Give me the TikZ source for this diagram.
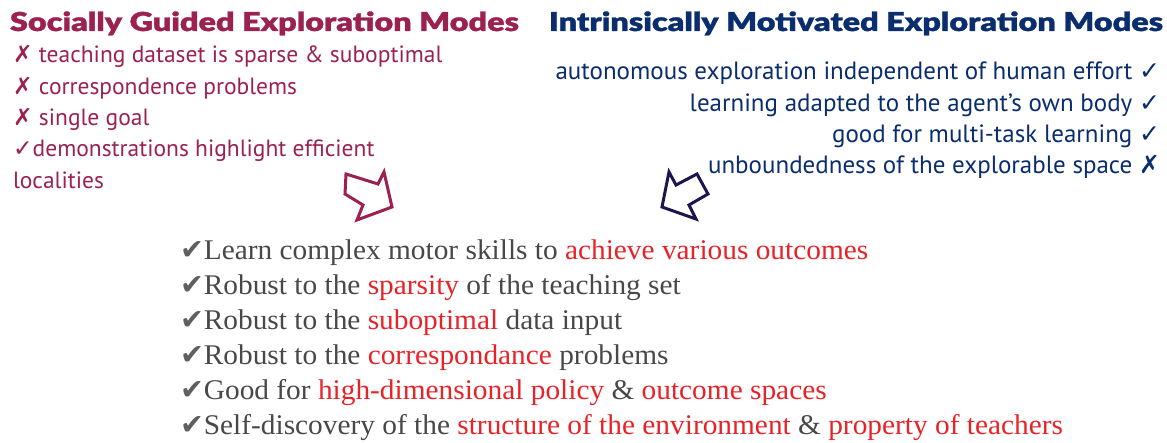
\documentclass[tikz,border=0pt]{standalone}
\usepackage{fontspec}
\usepackage{xcolor}
\usetikzlibrary{positioning}
\setmainfont[FakeStretch=1.03]{Liberation Serif}
\newfontfamily\gillfont{PT Sans}
\newfontfamily\headfont[FakeStretch=1.245, FakeBold=1.2]{Lato Black}
\newfontfamily\tickfont{DejaVu Sans}
\definecolor{socialred}{RGB}{155,33,81}
\definecolor{intrinsicblue}{RGB}{10,45,110}
\definecolor{arrowblue}{RGB}{30,20,80}
\definecolor{bodygray}{RGB}{72,72,72}
\definecolor{tickgray}{RGB}{95,95,95}
\definecolor{hilite}{RGB}{232,35,40}
\newcommand{\yes}{{\tickfont ✓}}
\newcommand{\no}{{\tickfont ✗}}
\newcommand{\tick}{{\tickfont\color{tickgray}✔}}
\newcommand{\hl}[1]{\textcolor{hilite}{#1}}

\begin{document}
\begin{tikzpicture}[x=1pt, y=-1pt,
            every node/.style = {inner sep=0pt, outer sep=0pt},
            title/.style = {font=\headfont\fontsize{26}{30}\selectfont},
            social/.style = {font=\gillfont\fontsize{23.5}{28}\selectfont, text=socialred, anchor=base west},
            intrinsic/.style = {font=\gillfont\fontsize{25}{28}\selectfont, text=intrinsicblue, anchor=base east},
            outcome/.style = {font=\fontsize{28.5}{32}\selectfont, text=bodygray, anchor=base west},
            bigarrow/.style = {line width=3pt, line join=miter}]
            \useasboundingbox (0,0) rectangle (1167,443);
            \node[title, text=socialred, anchor=base west] (sgTitle) at (10,31) {Socially Guided Exploration Modes};
            \node[social] (sg1) at (13,63) {\no{} teaching dataset is sparse \& suboptimal};
            \node[social, below=31.3pt of sg1.base west, anchor=base west] (sg2) {\no{} correspondence problems};
            \node[social, below=31.3pt of sg2.base west, anchor=base west] (sg3) {\no{} single goal};
            \node[social, below=31.3pt of sg3.base west, anchor=base west] (sg4) {\yes demonstrations highlight efficient};
            \node[social, below=31.3pt of sg4.base west, anchor=base west] (sg5) {localities};

            \node[title, text=intrinsicblue, anchor=base east] (imTitle) at (1163,31) {Intrinsically Motivated Exploration Modes};
            \node[intrinsic] (im1) at (1160,80) {autonomous exploration independent of human effort \yes};
            \node[intrinsic, below=31.3pt of im1.base east, anchor=base east] (im2) {learning adapted to the agent’s own body \yes};
            \node[intrinsic, below=31.3pt of im2.base east, anchor=base east] (im3) {good for multi-task learning \yes};
            \node[intrinsic, below=31.3pt of im3.base east, anchor=base east] (im4) {unboundedness of the explorable space \no};

            \draw[bigarrow, socialred] (346,174) -- (378,184) -- (384,172) -- (392,207) -- (357,220) -- (363,205) -- (345,194) -- cycle;
            \draw[bigarrow, arrowblue] (662,207) -- (669,172) -- (676,185) -- (697,174) -- (708,194) -- (689,205) -- (696,219) -- cycle;

            \node[outcome] (out1) at (180,260) {\tick Learn complex motor skills to \hl{achieve various outcomes}};
            \node[outcome, below=34.9pt of out1.base west, anchor=base west] (out2) {\tick Robust to the \hl{sparsity} of the teaching set};
            \node[outcome, below=34.9pt of out2.base west, anchor=base west] (out3) {\tick Robust to the \hl{suboptimal} data input};
            \node[outcome, below=34.9pt of out3.base west, anchor=base west] (out4) {\tick Robust to the \hl{correspondance} problems};
            \node[outcome, below=34.9pt of out4.base west, anchor=base west] (out5) {\tick Good for \hl{high-dimensional policy} \& \hl{outcome spaces}};
            \node[outcome, below=34.9pt of out5.base west, anchor=base west] (out6) {\tick Self-discovery of the \hl{structure of the environment} \& \hl{property of teachers}};
\end{tikzpicture}
\end{document}
